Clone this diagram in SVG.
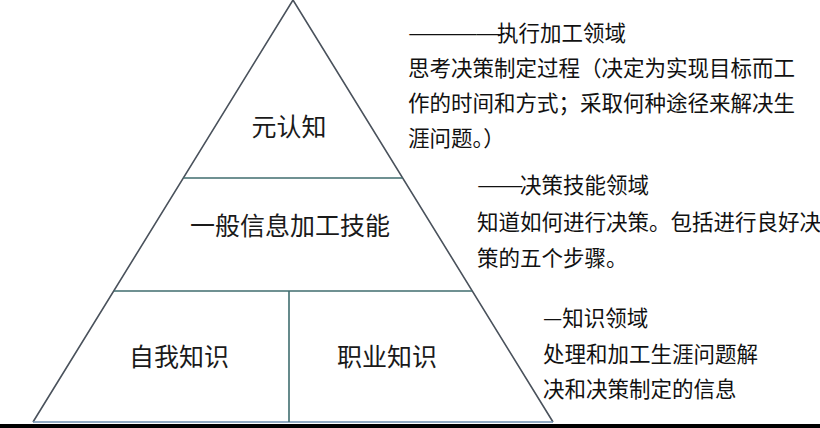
<svg xmlns="http://www.w3.org/2000/svg" width="820" height="428" viewBox="0 0 820 428">
<style>
.side{stroke:#4a525c;stroke-width:1.6;fill:none}
.div{stroke:#3f6d6e;stroke-width:1.6;fill:none}
.lbl{font-family:"Noto Sans CJK SC","Noto Sans",sans-serif;font-size:25px;fill:#1a1a1a;text-anchor:middle}
.note{font-family:"Noto Sans CJK SC","Noto Sans",sans-serif;font-size:21.5px;fill:#111}
.dash{letter-spacing:-2px}
</style>
<rect width="820" height="428" fill="#ffffff"/>
<g id="pyramid">
<polyline class="side" points="33,422 293,0 553,422"/>
<line x1="33" y1="422" x2="553" y2="422" stroke="#6f8fb0" stroke-width="1.6"/>
<line class="div" x1="183.5" y1="178" x2="402.5" y2="178"/>
<line class="div" x1="114" y1="291" x2="472" y2="291"/>
<line class="div" x1="289" y1="291" x2="289" y2="422"/>
</g>
<rect x="0" y="424" width="820" height="4" fill="#000"/>
<g id="node-metacognition"><text class="lbl" x="289" y="136">元认知</text></g>
<g id="node-general-skills"><text class="lbl" x="290" y="235">一般信息加工技能</text></g>
<g id="node-self-knowledge"><text class="lbl" x="179" y="366">自我知识</text></g>
<g id="node-occupational-knowledge"><text class="lbl" x="387" y="366">职业知识</text></g>
<g id="note-executive">
<text class="note dash" x="408" y="41" textLength="90" lengthAdjust="spacingAndGlyphs">————</text>
<text class="note" x="497" y="41">执行加工领域</text>
<text class="note" x="408" y="76">思考决策制定过程（决定为实现目标而工</text>
<text class="note" x="408" y="111">作的时间和方式；采取何种途径来解决生</text>
<text class="note" x="408" y="146">涯问题。）</text>
</g>
<g id="note-decision">
<text class="note dash" x="477" y="193" textLength="44" lengthAdjust="spacingAndGlyphs">——</text>
<text class="note" x="520" y="193">决策技能领域</text>
<text class="note" x="477" y="230">知道如何进行决策。包括进行良好决</text>
<text class="note" x="477" y="266">策的五个步骤。</text>
</g>
<g id="note-knowledge">
<text class="note" x="543" y="326">—知识领域</text>
<text class="note" x="543" y="362">处理和加工生涯问题解</text>
<text class="note" x="543" y="397">决和决策制定的信息</text>
</g>
</svg>
